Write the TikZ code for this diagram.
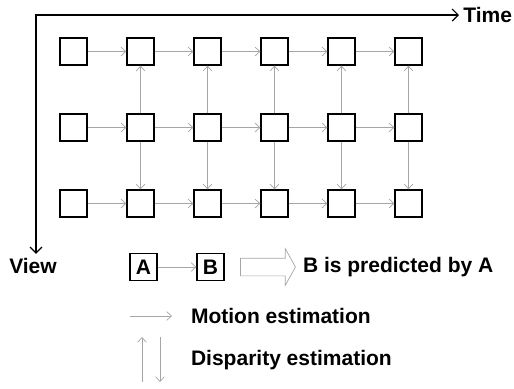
\documentclass[tikz,border=0pt]{standalone}
\usepackage{fontspec}
\setmainfont{Liberation Sans}
\usetikzlibrary{shapes.arrows, arrows.meta}

\tikzset{
	picbox/.style = {draw, minimum size = 13.5pt, inner sep = 0pt, line width = 0.65pt},
	pred/.style = {-{Straight Barb[length = 2.4pt, width = 4.4pt]}, gray!70, line width = 0.35pt},
	legendtext/.style = {font = \fontsize{10.5}{12}\selectfont\bfseries}
}

\begin{document}
\begin{tikzpicture}[x = 0.5pt, y = -0.5pt]

	\useasboundingbox (0, 0) rectangle (514, 388);

	% Frames
	
	\foreach \r in {1, 2, 3}
		\foreach \c in {1, ..., 6}
			\node [picbox] (f\r\c) at (6.5 + 67 * \c, -24.5 + 76 * \r) {};
	
	% Motion estimation (along time)
	
	\foreach \r in {1, 2, 3}
		\foreach \c [count = \n from 2] in {1, ..., 5}
			\draw [pred] (f\r\c) -- (f\r\n);
	
	% Disparity estimation (across views)
	
	\foreach \c in {2, ..., 6} {
		\draw [pred] (f2\c) -- (f1\c);
		\draw [pred] (f2\c) -- (f3\c);
	}
	
	% Axes
	
	\coordinate (corner) at (36, 15);
	\node [legendtext, anchor = west, inner sep = 2pt] (time) at (459, 15) {Time};
	\node [legendtext, inner sep = 2pt] (view) at (33, 266) {View};
	\draw [{Straight Barb[length = 3pt, width = 6pt]}-{Straight Barb[length = 3pt, width = 6pt]}, line width = 0.6pt] (time.west) -- (corner) -- (corner |- view.north);
	
	% Legend
	
	\node [picbox, legendtext] (a) at (143.5, 267) {A};
	\node [picbox, legendtext] (b) at (210.5, 267) {B};
	\draw [pred] (a) -- (b);
	
	\node [single arrow, draw = gray!70, line width = 0.35pt, minimum height = 27.5pt, inner xsep = 0pt, inner ysep = 4.25pt, text height = 0pt, text depth = 0pt, single arrow head extend = 4.75pt, single arrow tip angle = 122] (big) at (265.5, 267) {};
	\node [legendtext, anchor = west] (meaning) at (296, 267) {B is predicted by A};
	
	\coordinate (m0) at (130, 316);
	\coordinate (m1) at (172, 316);
	\draw [pred] (m0) -- (m1);
	\node [legendtext, anchor = west] (motion) at (184, 316) {Motion estimation};
	
	\coordinate (u0) at (142, 382);
	\coordinate (u1) at (142, 337);
	\coordinate (d0) at (160, 337);
	\coordinate (d1) at (160, 382);
	\draw [pred] (u0) -- (u1);
	\draw [pred] (d0) -- (d1);
	\node [legendtext, anchor = west] (disparity) at (184, 360) {Disparity estimation};
	
\end{tikzpicture}
\end{document}
